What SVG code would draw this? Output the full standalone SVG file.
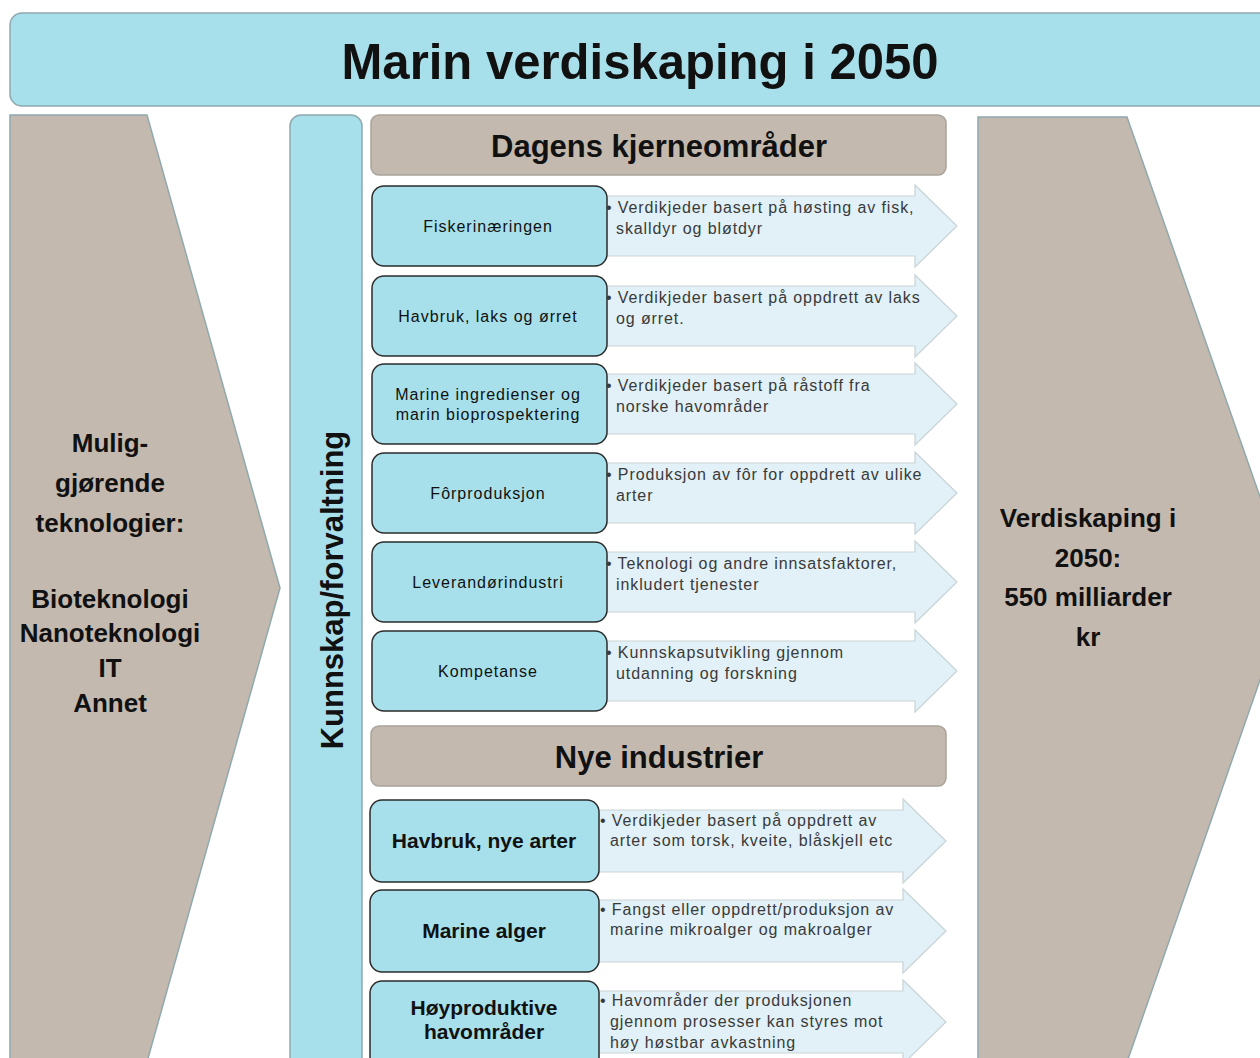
<svg xmlns="http://www.w3.org/2000/svg" width="1260" height="1058" viewBox="0 0 1260 1058">
<style>
.cyan{fill:#a7e0ea;stroke:#8fa9ae;stroke-width:1.5}
.tan{fill:#c3b9ae;stroke:#8fa9ae;stroke-width:1.5}
.hdr{fill:#c3b9ae;stroke:#a9a39b;stroke-width:1.5}
.node{fill:#a7e0ea;stroke:#2b2b2b;stroke-width:1.5}
.arrow{fill:#e1f1f7;stroke:#c9d3d6;stroke-width:1.2}
text{font-family:"Liberation Sans","DejaVu Sans",sans-serif;fill:#111}
.lbl{font-size:16px;text-anchor:middle;letter-spacing:1px}
.lbl2{font-size:21px;font-weight:bold;text-anchor:middle}
.desc{font-size:16px;fill:#3a3a3a;letter-spacing:0.9px}
.big{font-size:26px;text-anchor:middle;font-weight:bold}
.hd{font-size:31px;text-anchor:middle;font-weight:bold}
</style>
<rect width="1260" height="1058" fill="#ffffff"/>
<g id="title">
<rect class="cyan" x="10" y="13" width="1270" height="93" rx="12"/>
<text x="640" y="79" font-size="50" font-weight="bold" text-anchor="middle" textLength="597" lengthAdjust="spacingAndGlyphs">Marin verdiskaping i 2050</text>
</g>
<g id="enablers">
<path class="tan" d="M10,115 L147,115 L280,588 L147,1062 L10,1062 Z"/>
<text class="big" x="110" y="452">Mulig-</text>
<text class="big" x="110" y="492">gjørende</text>
<text class="big" x="110" y="532">teknologier:</text>
<text class="big" x="110" y="608" font-size="24">Bioteknologi</text>
<text class="big" x="110" y="642" font-size="24">Nanoteknologi</text>
<text class="big" x="110" y="677" font-size="24">IT</text>
<text class="big" x="110" y="712" font-size="24">Annet</text>
</g>
<g id="result">
<path class="tan" d="M978,117 L1127,117 L1292,588 L1127,1062 L978,1062 Z"/>
<text class="big" x="1088" y="527" font-size="27">Verdiskaping i</text>
<text class="big" x="1088" y="567" font-size="27">2050:</text>
<text class="big" x="1088" y="606" font-size="27">550 milliarder</text>
<text class="big" x="1088" y="646" font-size="27">kr</text>
</g>
<g id="knowledge">
<rect class="cyan" x="290" y="115" width="72" height="960" rx="11"/>
<text x="343" y="590" font-size="31" font-weight="bold" text-anchor="middle" transform="rotate(-90 343 590)">Kunnskap/forvaltning</text>
</g>
<g id="header-core">
<rect class="hdr" x="371" y="115" width="575" height="60" rx="8"/>
<text class="hd" x="659" y="157">Dagens kjerneområder</text>
</g>
<g id="header-new">
<rect class="hdr" x="371" y="726" width="575" height="60" rx="8"/>
<text class="hd" x="659" y="768" font-size="32">Nye industrier</text>
</g>
<g id="connectors">
<path class="arrow" d="M600,196 L915,196 L915,185 L957,226 L915,267 L915,256 L600,256 Z"/>
<path class="arrow" d="M600,286 L915,286 L915,275 L957,316 L915,357 L915,346 L600,346 Z"/>
<path class="arrow" d="M600,374 L915,374 L915,363 L957,404 L915,445 L915,434 L600,434 Z"/>
<path class="arrow" d="M600,463 L915,463 L915,452 L957,493 L915,534 L915,523 L600,523 Z"/>
<path class="arrow" d="M600,552 L915,552 L915,541 L957,582 L915,623 L915,612 L600,612 Z"/>
<path class="arrow" d="M600,641 L915,641 L915,630 L957,671 L915,712 L915,701 L600,701 Z"/>
<path class="arrow" d="M595,810 L903,810 L903,799 L946,841 L903,883 L903,872 L595,872 Z"/>
<path class="arrow" d="M595,900 L903,900 L903,889 L946,931 L903,973 L903,962 L595,962 Z"/>
<path class="arrow" d="M595,991 L903,991 L903,980 L946,1022 L903,1064 L903,1053 L595,1053 Z"/>
</g>
<g id="n1">
<rect class="node" x="372" y="186" width="235" height="80" rx="12"/>
<text class="lbl" x="488" y="232">Fiskerinæringen</text>
<text class="desc" x="606" y="213">• Verdikjeder basert på høsting av fisk,</text>
<text class="desc" x="616" y="234">skalldyr og bløtdyr</text>
</g>
<g id="n2">
<rect class="node" x="372" y="276" width="235" height="80" rx="12"/>
<text class="lbl" x="488" y="322">Havbruk, laks og ørret</text>
<text class="desc" x="606" y="303">• Verdikjeder basert på oppdrett av laks</text>
<text class="desc" x="616" y="324">og ørret.</text>
</g>
<g id="n3">
<rect class="node" x="372" y="364" width="235" height="80" rx="12"/>
<text class="lbl" x="488" y="400" letter-spacing="0.5">Marine ingredienser og</text>
<text class="lbl" x="488" y="420" letter-spacing="0.5">marin bioprospektering</text>
<text class="desc" x="606" y="391">• Verdikjeder basert på råstoff fra</text>
<text class="desc" x="616" y="412">norske havområder</text>
</g>
<g id="n4">
<rect class="node" x="372" y="453" width="235" height="80" rx="12"/>
<text class="lbl" x="488" y="499">Fôrproduksjon</text>
<text class="desc" x="606" y="480">• Produksjon av fôr for oppdrett av ulike</text>
<text class="desc" x="616" y="501">arter</text>
</g>
<g id="n5">
<rect class="node" x="372" y="542" width="235" height="80" rx="12"/>
<text class="lbl" x="488" y="588">Leverandørindustri</text>
<text class="desc" x="606" y="569">• Teknologi og andre innsatsfaktorer,</text>
<text class="desc" x="616" y="590">inkludert tjenester</text>
</g>
<g id="n6">
<rect class="node" x="372" y="631" width="235" height="80" rx="12"/>
<text class="lbl" x="488" y="677">Kompetanse</text>
<text class="desc" x="606" y="658">• Kunnskapsutvikling gjennom</text>
<text class="desc" x="616" y="679">utdanning og forskning</text>
</g>
<g id="n7">
<rect class="node" x="370" y="800" width="229" height="82" rx="12"/>
<text class="lbl2" x="484" y="848">Havbruk, nye arter</text>
<text class="desc" x="600" y="826">• Verdikjeder basert på oppdrett av</text>
<text class="desc" x="610" y="846">arter som torsk, kveite, blåskjell etc</text>
</g>
<g id="n8">
<rect class="node" x="370" y="890" width="229" height="82" rx="12"/>
<text class="lbl2" x="484" y="938">Marine alger</text>
<text class="desc" x="600" y="915">• Fangst eller oppdrett/produksjon av</text>
<text class="desc" x="610" y="935">marine mikroalger og makroalger</text>
</g>
<g id="n9">
<rect class="node" x="370" y="981" width="229" height="90" rx="12"/>
<text class="lbl2" x="484" y="1015">Høyproduktive</text>
<text class="lbl2" x="484" y="1039">havområder</text>
<text class="desc" x="600" y="1006">• Havområder der produksjonen</text>
<text class="desc" x="610" y="1027">gjennom prosesser kan styres mot</text>
<text class="desc" x="610" y="1048">høy høstbar avkastning</text>
</g>
</svg>
